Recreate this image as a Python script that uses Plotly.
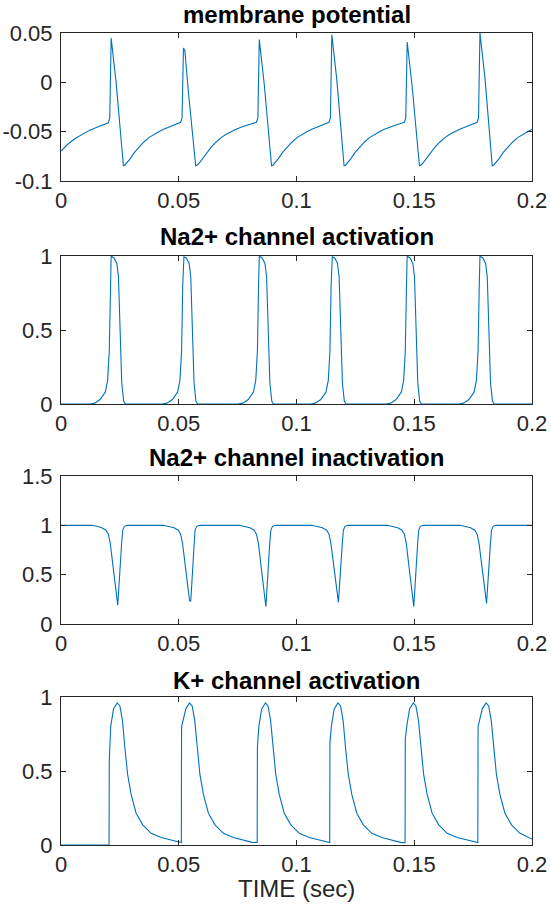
import plotly.graph_objects as go

# ---------------- data ----------------
t_vm = [0.0, 0.003, 0.006, 0.009, 0.012, 0.015, 0.018,
        0.0201, 0.0207, 0.0213, 0.0234, 0.0265, 0.0271, 0.0283, 0.0295, 0.0311, 0.0330, 0.0351, 0.0373, 0.0394, 0.0415, 0.0436, 0.0457, 0.0488,
        0.0508, 0.0514, 0.0520, 0.0526, 0.0541, 0.0572, 0.0578, 0.0590, 0.0602, 0.0618, 0.0637, 0.0658, 0.0680, 0.0701, 0.0722, 0.0743, 0.0764, 0.0795,
        0.0830, 0.0836, 0.0842, 0.0863, 0.0894, 0.0900, 0.0912, 0.0924, 0.0940, 0.0959, 0.0980, 0.1002, 0.1023, 0.1044, 0.1065, 0.1086, 0.1117,
        0.1138, 0.1144, 0.1150, 0.1171, 0.1202, 0.1208, 0.1220, 0.1232, 0.1248, 0.1267, 0.1288, 0.1310, 0.1331, 0.1352, 0.1373, 0.1394, 0.1425,
        0.1458, 0.1464, 0.1470, 0.1491, 0.1522, 0.1528, 0.1540, 0.1552, 0.1568, 0.1587, 0.1608, 0.1630, 0.1651, 0.1672, 0.1693, 0.1714, 0.1745,
        0.1767, 0.1773, 0.1779, 0.1800, 0.1831, 0.1837, 0.1849, 0.1861, 0.1877, 0.1896, 0.1917, 0.1939, 0.1960, 0.1981, 0.2000]
vm = [-0.0697, -0.0625, -0.0570, -0.0525, -0.0487, -0.0458, -0.0430,
      -0.0410, -0.0360, 0.0449, 0.0000, -0.0845, -0.0840, -0.0808, -0.0770, -0.0712, -0.0660, -0.0607, -0.0560, -0.0527, -0.0500, -0.0475, -0.0455, -0.0430,
      -0.0405, -0.0360, 0.0348, 0.0320, -0.0100, -0.0845, -0.0840, -0.0808, -0.0770, -0.0712, -0.0660, -0.0607, -0.0560, -0.0527, -0.0500, -0.0475, -0.0455, -0.0430,
      -0.0405, -0.0360, 0.0433, -0.0020, -0.0845, -0.0840, -0.0808, -0.0770, -0.0712, -0.0660, -0.0607, -0.0560, -0.0527, -0.0500, -0.0475, -0.0455, -0.0430,
      -0.0405, -0.0360, 0.0483, 0.0030, -0.0845, -0.0840, -0.0808, -0.0770, -0.0712, -0.0660, -0.0607, -0.0560, -0.0527, -0.0500, -0.0475, -0.0455, -0.0430,
      -0.0405, -0.0360, 0.0409, -0.0040, -0.0845, -0.0840, -0.0808, -0.0770, -0.0712, -0.0660, -0.0607, -0.0560, -0.0527, -0.0500, -0.0475, -0.0455, -0.0430,
      -0.0405, -0.0360, 0.0500, 0.0050, -0.0845, -0.0840, -0.0808, -0.0770, -0.0712, -0.0660, -0.0607, -0.0560, -0.0527, -0.0500, -0.0478]

t_m = [0.0,
       0.0123, 0.0143, 0.0166, 0.0188, 0.0198, 0.0205, 0.0210, 0.0213, 0.0226, 0.0237, 0.0244, 0.0251, 0.0258, 0.0266, 0.0273,
       0.0430, 0.0450, 0.0473, 0.0495, 0.0505, 0.0512, 0.0517, 0.0522, 0.0533, 0.0544, 0.0551, 0.0558, 0.0565, 0.0573, 0.0580,
       0.0752, 0.0772, 0.0795, 0.0817, 0.0827, 0.0834, 0.0839, 0.0842, 0.0855, 0.0866, 0.0873, 0.0880, 0.0887, 0.0895, 0.0902,
       0.1060, 0.1080, 0.1103, 0.1125, 0.1135, 0.1142, 0.1147, 0.1152, 0.1163, 0.1174, 0.1181, 0.1188, 0.1195, 0.1203, 0.1210,
       0.1380, 0.1400, 0.1423, 0.1445, 0.1455, 0.1462, 0.1467, 0.1470, 0.1483, 0.1494, 0.1501, 0.1508, 0.1515, 0.1523, 0.1530,
       0.1689, 0.1709, 0.1732, 0.1754, 0.1764, 0.1771, 0.1776, 0.1779, 0.1792, 0.1803, 0.1810, 0.1817, 0.1824, 0.1832, 0.1839,
       0.2000]
m_act = [0.0,
         0.0, 0.006, 0.030, 0.080, 0.160, 0.360, 0.800, 1.000, 0.985, 0.950, 0.860, 0.480, 0.140, 0.020, 0.0,
         0.0, 0.006, 0.030, 0.080, 0.160, 0.360, 0.800, 0.995, 0.985, 0.950, 0.860, 0.480, 0.140, 0.020, 0.0,
         0.0, 0.006, 0.030, 0.080, 0.160, 0.360, 0.800, 1.000, 0.985, 0.950, 0.860, 0.480, 0.140, 0.020, 0.0,
         0.0, 0.006, 0.030, 0.080, 0.160, 0.360, 0.800, 0.995, 0.985, 0.950, 0.860, 0.480, 0.140, 0.020, 0.0,
         0.0, 0.006, 0.030, 0.080, 0.160, 0.360, 0.800, 1.000, 0.985, 0.950, 0.860, 0.480, 0.140, 0.020, 0.0,
         0.0, 0.006, 0.030, 0.080, 0.160, 0.360, 0.800, 1.000, 0.985, 0.950, 0.860, 0.480, 0.140, 0.020, 0.0,
         0.0]

t_h = [0.0,
       0.0128, 0.0153, 0.0173, 0.0191, 0.0201, 0.0209, 0.0241, 0.0257, 0.0262, 0.0269, 0.0281,
       0.0435, 0.0460, 0.0480, 0.0498, 0.0508, 0.0516, 0.0546, 0.0551, 0.0564, 0.0569, 0.0576, 0.0588,
       0.0757, 0.0782, 0.0802, 0.0820, 0.0830, 0.0838, 0.0870, 0.0886, 0.0891, 0.0898, 0.0910,
       0.1065, 0.1090, 0.1110, 0.1128, 0.1138, 0.1146, 0.1178, 0.1194, 0.1199, 0.1206, 0.1218,
       0.1385, 0.1410, 0.1430, 0.1448, 0.1458, 0.1466, 0.1498, 0.1514, 0.1519, 0.1526, 0.1538,
       0.1694, 0.1719, 0.1739, 0.1757, 0.1767, 0.1775, 0.1807, 0.1823, 0.1828, 0.1835, 0.1847,
       0.2000]
h_inact = [1.0,
           1.0, 0.99, 0.975, 0.95, 0.91, 0.82, 0.192, 0.80, 0.95, 0.99, 1.0,
           1.0, 0.99, 0.975, 0.95, 0.91, 0.82, 0.235, 0.233, 0.80, 0.95, 0.99, 1.0,
           1.0, 0.99, 0.975, 0.95, 0.91, 0.82, 0.175, 0.80, 0.95, 0.99, 1.0,
           1.0, 0.99, 0.975, 0.95, 0.91, 0.82, 0.219, 0.80, 0.95, 0.99, 1.0,
           1.0, 0.99, 0.975, 0.95, 0.91, 0.82, 0.175, 0.80, 0.95, 0.99, 1.0,
           1.0, 0.99, 0.975, 0.95, 0.91, 0.82, 0.209, 0.80, 0.95, 0.99, 1.0,
           1.0]

t_n = [0.0, 0.0204,
       0.0205, 0.0211, 0.0223, 0.0239, 0.0250, 0.0261, 0.0271, 0.0283, 0.0298, 0.0319, 0.0347, 0.0383, 0.0425, 0.0468, 0.0505,
       0.0511, 0.0512, 0.0530, 0.0546, 0.0557, 0.0568, 0.0578, 0.0590, 0.0605, 0.0626, 0.0654, 0.0690, 0.0732, 0.0775, 0.0812,
       0.0833, 0.0834, 0.0840, 0.0852, 0.0868, 0.0879, 0.0890, 0.0900, 0.0912, 0.0927, 0.0948, 0.0976, 0.1012, 0.1054, 0.1097, 0.1134,
       0.1141, 0.1142, 0.1148, 0.1160, 0.1176, 0.1187, 0.1198, 0.1208, 0.1220, 0.1235, 0.1256, 0.1284, 0.1320, 0.1362, 0.1405, 0.1442,
       0.1461, 0.1462, 0.1468, 0.1480, 0.1496, 0.1507, 0.1518, 0.1528, 0.1540, 0.1555, 0.1576, 0.1604, 0.1640, 0.1682, 0.1725, 0.1762,
       0.1770, 0.1771, 0.1789, 0.1805, 0.1816, 0.1827, 0.1837, 0.1849, 0.1864, 0.1885, 0.1913, 0.1949, 0.2000]
n_act = [0.0, 0.0,
         0.57, 0.80, 0.92, 0.96, 0.94, 0.84, 0.66, 0.475, 0.34, 0.215, 0.136, 0.079, 0.05, 0.032, 0.018,
         0.017, 0.80, 0.92, 0.96, 0.94, 0.84, 0.66, 0.475, 0.34, 0.215, 0.136, 0.079, 0.05, 0.032, 0.018,
         0.017, 0.66, 0.80, 0.92, 0.96, 0.94, 0.84, 0.66, 0.475, 0.34, 0.215, 0.136, 0.079, 0.05, 0.032, 0.018,
         0.017, 0.69, 0.80, 0.92, 0.96, 0.94, 0.84, 0.66, 0.475, 0.34, 0.215, 0.136, 0.079, 0.05, 0.032, 0.018,
         0.016, 0.72, 0.80, 0.92, 0.96, 0.94, 0.84, 0.66, 0.475, 0.34, 0.215, 0.136, 0.079, 0.05, 0.032, 0.017,
         0.016, 0.80, 0.92, 0.96, 0.94, 0.84, 0.66, 0.475, 0.34, 0.215, 0.136, 0.079, 0.04]

titles = ["membrane potential", "Na2+ channel activation",
          "Na2+ channel inactivation", "K+ channel activation"]
x_ticks = [0, 0.05, 0.1, 0.15, 0.2]
x_ticklabels = ["0", "0.05", "0.1", "0.15", "0.2"]
y_ranges = [[-0.1, 0.05], [0, 1], [0, 1.5], [0, 1]]
y_ticks = [[-0.1, -0.05, 0, 0.05], [0, 0.5, 1], [0, 0.5, 1, 1.5], [0, 0.5, 1]]
y_ticklabels = [["-0.1", "-0.05", "0", "0.05"], ["0", "0.5", "1"],
                ["0", "0.5", "1", "1.5"], ["0", "0.5", "1"]]
x_label = "TIME (sec)"

# ---------------- figure ----------------
W, H = 551, 909
ML, MR, MT, MB = 61, 19, 33, 64
ph = H - MT - MB
panels_px = [(33, 181), (256, 404), (476, 624), (697, 845)]
title_px = [15, 236, 457, 680]
xlabel_px = 888

def py(p):
    return (H - MB - p) / ph

LINE = "#0072BD"
AX = "#262626"
FONT = "Liberation Sans, Arial, Helvetica, sans-serif"

fig = go.Figure()
series = [(t_vm, vm), (t_m, m_act), (t_h, h_inact), (t_n, n_act)]
for i, (tx, yy) in enumerate(series):
    k = "" if i == 0 else str(i + 1)
    fig.add_trace(go.Scatter(x=tx, y=yy, mode="lines",
                             line=dict(color=LINE, width=1.1),
                             xaxis="x" + k, yaxis="y" + k, showlegend=False,
                             hoverinfo="skip"))
    top, bot = panels_px[i]
    common = dict(showgrid=False, zeroline=False, showline=True, linecolor=AX,
                  linewidth=1, mirror="ticks", ticks="inside", ticklen=5,
                  tickcolor=AX, tickwidth=1, automargin=False,
                  tickfont=dict(family=FONT, size=22, color=AX))
    xa = dict(common, range=[0, 0.2], tickvals=x_ticks, ticktext=x_ticklabels,
              domain=[0, 1], anchor="y" + k, ticklabelstandoff=0)
    ya = dict(common, range=y_ranges[i], tickvals=y_ticks[i],
              ticktext=y_ticklabels[i], domain=[py(bot), py(top)],
              anchor="x" + k, ticklabelstandoff=3)
    fig.layout["xaxis" + k] = xa
    fig.layout["yaxis" + k] = ya
    fig.add_annotation(text="<b>" + titles[i] + "</b>", xref="paper", yref="paper",
                       x=0.5, y=py(title_px[i]), xanchor="center", yanchor="middle",
                       showarrow=False,
                       font=dict(family=FONT, size=24, color="#000000"))

fig.add_annotation(text=x_label, xref="paper", yref="paper",
                   x=0.5, y=py(xlabel_px), xanchor="center", yanchor="middle",
                   showarrow=False, font=dict(family=FONT, size=24, color=AX))

fig.update_layout(width=W, height=H, margin=dict(l=ML, r=MR, t=MT, b=MB),
                  paper_bgcolor="white", plot_bgcolor="white")

fig.write_html("out.html", config={"displayModeBar": False, "staticPlot": True},
               post_script="document.body.style.margin='0';document.body.style.overflow='hidden';")
